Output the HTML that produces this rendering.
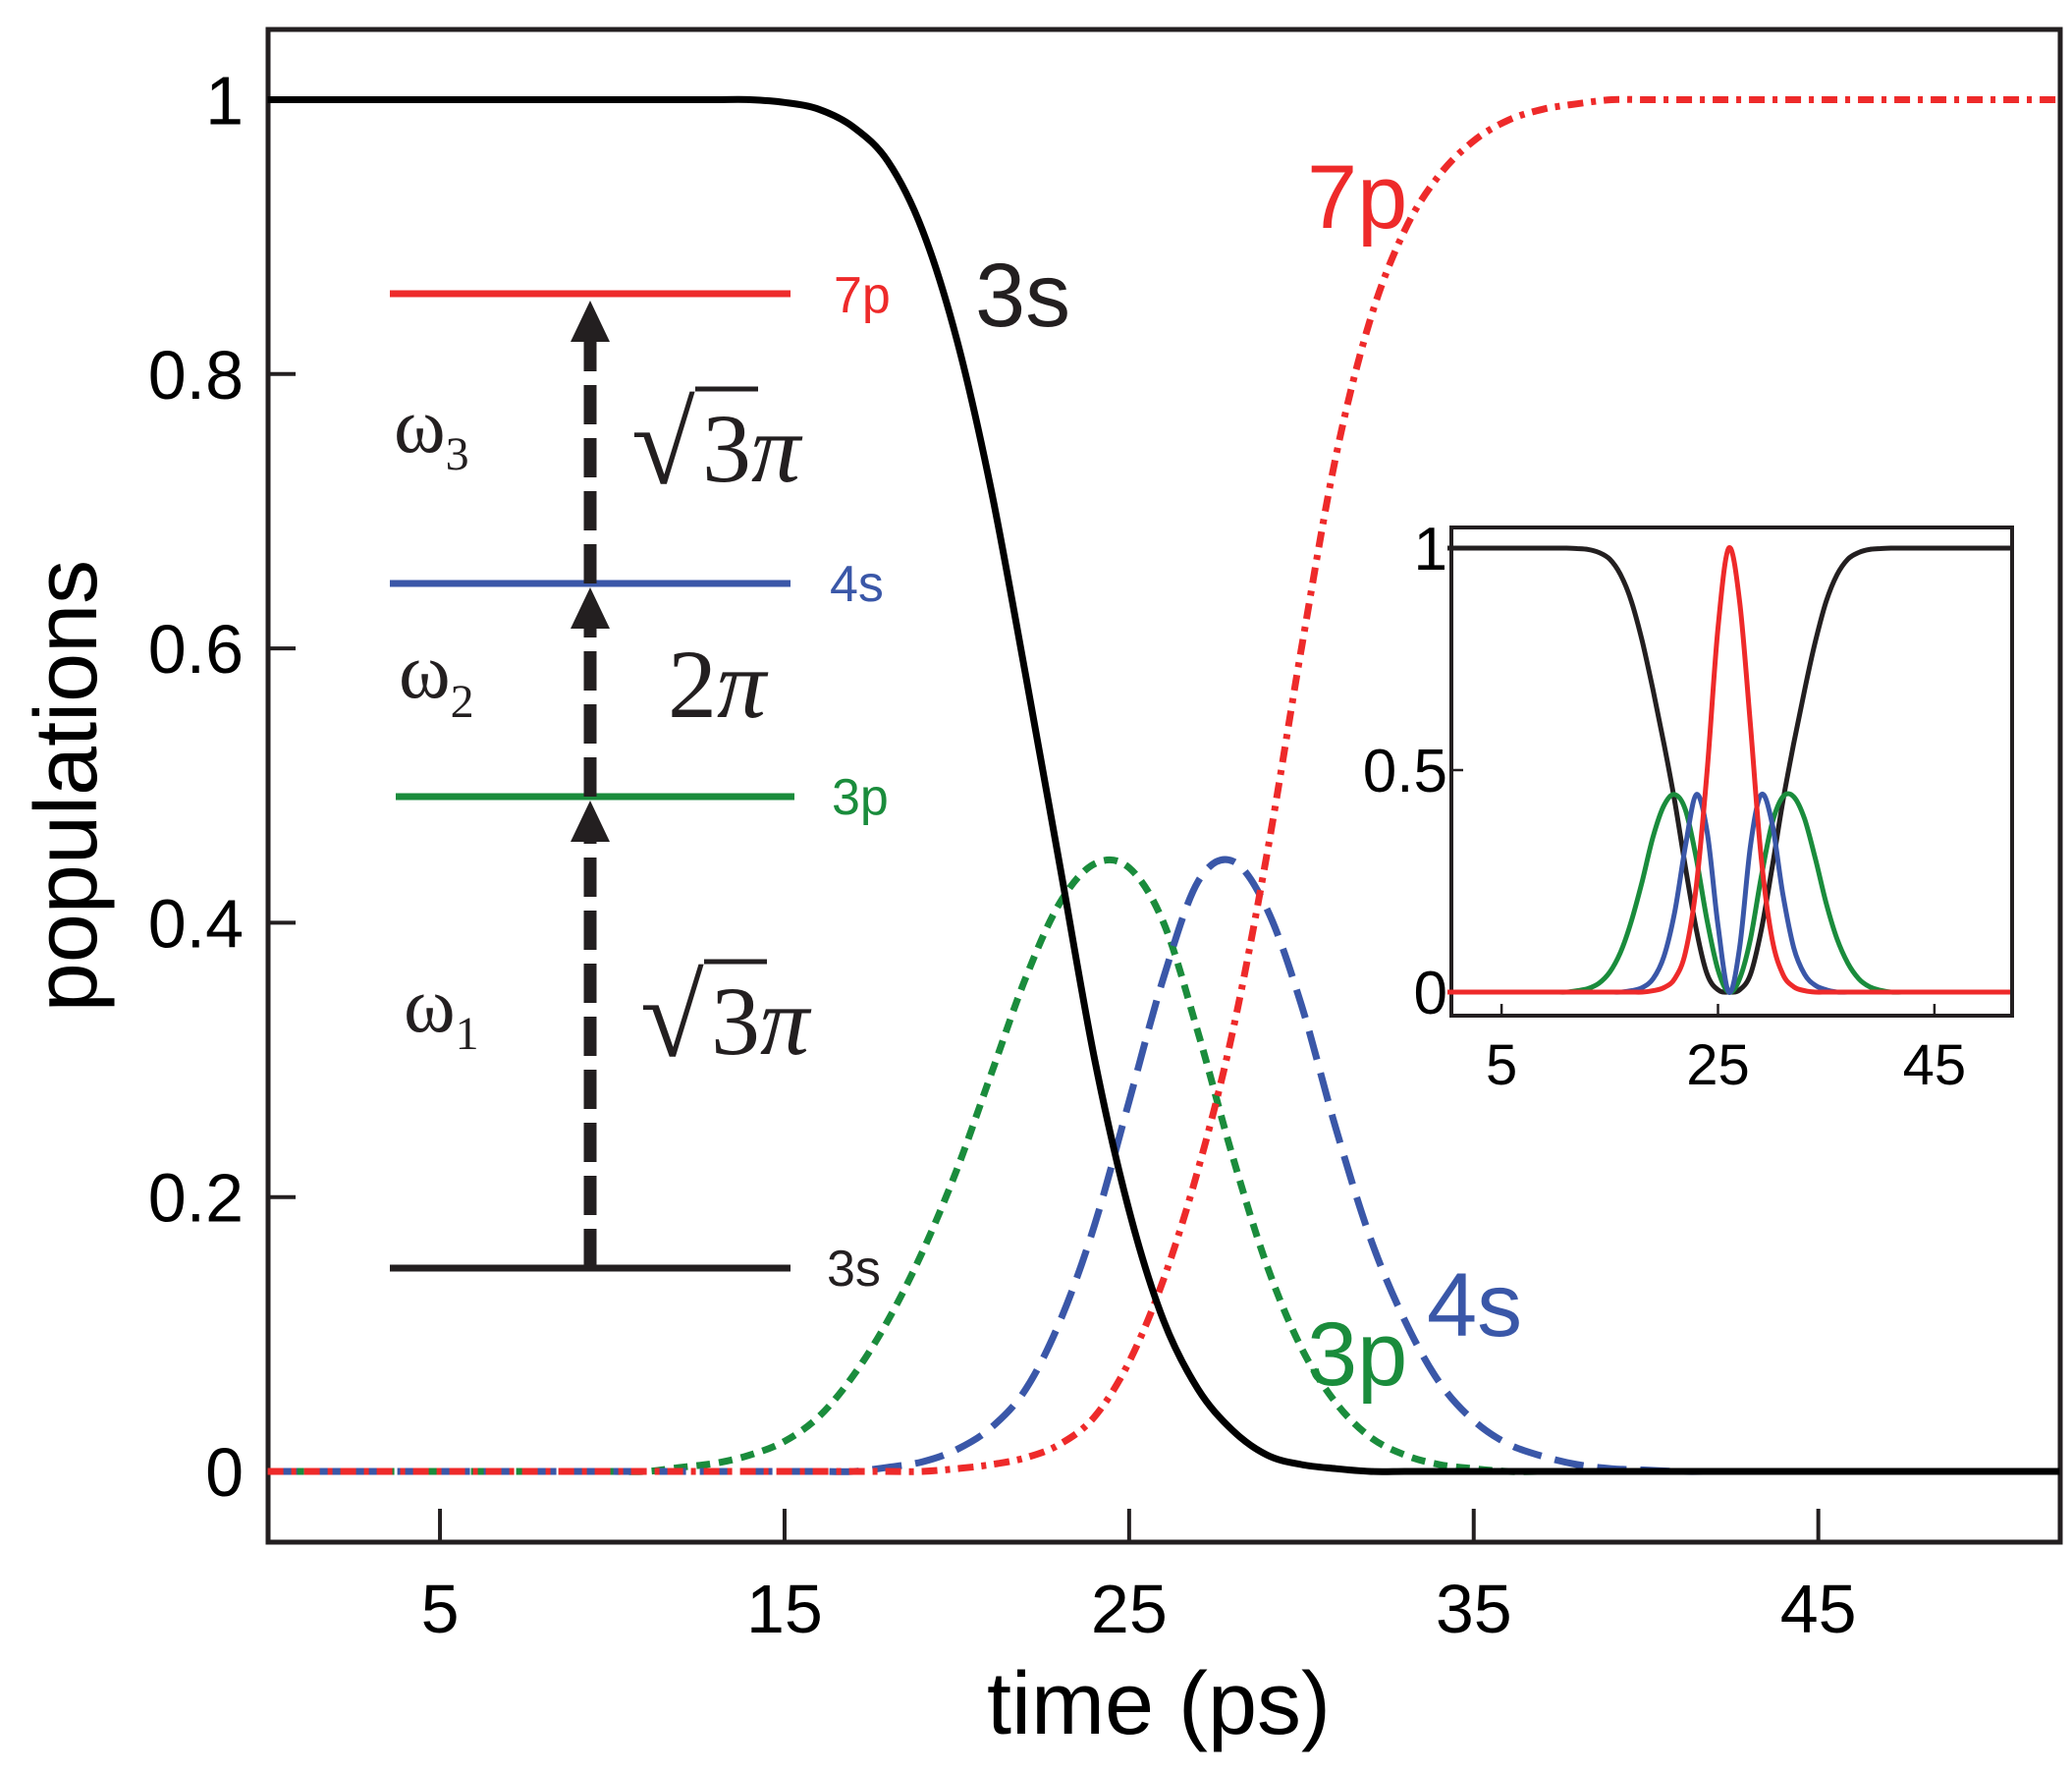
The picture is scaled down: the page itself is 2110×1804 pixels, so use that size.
<!DOCTYPE html>
<html><head><meta charset="utf-8"><style>
html,body{margin:0;padding:0;background:#fff;}
svg{display:block;font-family:"Liberation Sans",sans-serif;}
</style></head><body>
<svg id="chart" width="2110" height="1804" viewBox="0 0 2110 1804" xmlns="http://www.w3.org/2000/svg">
<g id="main"></g>
<g id="diagram">
  <line x1="397" y1="299" x2="805" y2="299" stroke="#ee2a2a" stroke-width="7"/>
  <line x1="397" y1="594" x2="805" y2="594" stroke="#3a57a8" stroke-width="7"/>
  <line x1="403" y1="811" x2="809" y2="811" stroke="#1a8c3c" stroke-width="7"/>
  <line x1="397" y1="1291" x2="805" y2="1291" stroke="#231f20" stroke-width="7"/>
  <text x="849" y="318" font-size="52" fill="#ee2a2a">7p</text>
  <text x="845" y="612" font-size="52" fill="#3a57a8">4s</text>
  <text x="847" y="829" font-size="52" fill="#1a8c3c">3p</text>
  <text x="842" y="1309" font-size="52" fill="#231f20">3s</text>
  <g stroke="#231f20" stroke-width="13" fill="#231f20">
    <line x1="601" y1="1291" x2="601" y2="852" stroke-dasharray="40,14"/>
    <polygon points="601,815 581,857 621,857" stroke="none"/>
    <line x1="601" y1="811" x2="601" y2="636" stroke-dasharray="40,14"/>
    <polygon points="601,598 581,640 621,640" stroke="none"/>
    <line x1="601" y1="594" x2="601" y2="348" stroke-dasharray="40,14"/>
    <polygon points="601,306 581,348 621,348" stroke="none"/>
  </g>
  <g font-family="Liberation Serif, serif" fill="#231f20">
    <text x="401" y="460" font-size="80">ω<tspan font-size="48" dy="18">3</tspan></text>
    <text x="406" y="710" font-size="80">ω<tspan font-size="48" dy="20">2</tspan></text>
    <text x="411" y="1050" font-size="80">ω<tspan font-size="48" dy="18">1</tspan></text>
    <g>
      <text x="643" y="492" font-size="118">√</text>
      <line x1="708" y1="396" x2="772" y2="396" stroke="#231f20" stroke-width="5"/>
      <text x="715" y="490" font-size="100">3<tspan font-style="italic">π</tspan></text>
    </g>
    <text x="680" y="730" font-size="100">2<tspan font-style="italic">π</tspan></text>
    <g>
      <text x="652" y="1075" font-size="118">√</text>
      <line x1="717" y1="979" x2="781" y2="979" stroke="#231f20" stroke-width="5"/>
      <text x="724" y="1073" font-size="100">3<tspan font-style="italic">π</tspan></text>
    </g>
  </g>
</g>
<g id="inset"></g>
</svg>
<script>
// main chart data (time in ps, populations)
const times = [0,1,2,3,4,5,6,7,8,9,10,11,12,13,14,15,16,17,18,19,20,21,22,23,24,25,26,27,28,29,30,31,32,33,34,35,36,37,38,39,40,41,42,43,44,45,46,47,48,49,50,51,52];
const pop3s = [1,1,1,1,1,1,1,1,1,1,1,1,1,1,1,0.998,0.993,0.98,0.955,0.905,0.825,0.715,0.58,0.44,0.3,0.19,0.11,0.06,0.03,0.012,0.005,0.002,0,0,0,0,0,0,0,0,0,0,0,0,0,0,0,0,0,0,0,0,0];
const pop3p = [0,0,0,0,0,0,0,0,0,0,0,0,0.003,0.006,0.012,0.022,0.04,0.07,0.11,0.16,0.22,0.29,0.36,0.415,0.443,0.44,0.4,0.32,0.23,0.15,0.09,0.05,0.025,0.012,0.005,0.002,0,0,0,0,0,0,0,0,0,0,0,0,0,0,0,0,0];
const pop4s = [0,0,0,0,0,0,0,0,0,0,0,0,0,0,0,0,0,0,0.003,0.007,0.016,0.032,0.06,0.11,0.18,0.27,0.36,0.43,0.445,0.41,0.34,0.25,0.17,0.11,0.065,0.037,0.02,0.011,0.005,0.002,0.001,0,0,0,0,0,0,0,0,0,0,0,0];
const pop7p = [0,0,0,0,0,0,0,0,0,0,0,0,0,0,0,0,0,0,0,0,0.002,0.005,0.01,0.02,0.04,0.08,0.14,0.22,0.32,0.45,0.6,0.74,0.84,0.905,0.945,0.97,0.985,0.993,0.997,1,1,1,1,1,1,1,1,1,1,1,1,1,1];
const xTicks = [5,15,25,35,45];
const yTicks = [0,0.2,0.4,0.6,0.8,1];
const yTickLabels = ["0","0.2","0.4","0.6","0.8","1"];
// inset data
const insetTimes = [0,1,2,3,4,5,6,7,8,9,10,11,12,13,14,15,16,17,18,19,20,21,22,23,24,25,26,27,28,29,30,31,32,33,34,35,36,37,38,39,40,41,42,43,44,45,46,47,48,49,50,51,52];
const in3s = [1,1,1,1,1,1,1,1,1,1,1,1,0.999,0.997,0.99,0.975,0.94,0.88,0.79,0.68,0.56,0.43,0.28,0.14,0.04,0.005,0,0.005,0.04,0.14,0.28,0.43,0.56,0.68,0.79,0.88,0.94,0.975,0.99,0.997,0.999,1,1,1,1,1,1,1,1,1,1,1,1];
const in3p = [0,0,0,0,0,0,0,0,0,0,0,0,0.003,0.008,0.02,0.045,0.09,0.16,0.25,0.35,0.42,0.445,0.41,0.3,0.16,0.05,0,0.03,0.12,0.26,0.38,0.44,0.44,0.39,0.3,0.2,0.12,0.065,0.03,0.012,0.004,0,0,0,0,0,0,0,0,0,0,0,0];
const in4s = [0,0,0,0,0,0,0,0,0,0,0,0,0,0,0,0,0,0.003,0.01,0.03,0.08,0.18,0.33,0.445,0.36,0.15,0,0.1,0.33,0.445,0.38,0.22,0.1,0.04,0.015,0.005,0,0,0,0,0,0,0,0,0,0,0,0,0,0,0,0,0];
const in7p = [0,0,0,0,0,0,0,0,0,0,0,0,0,0,0,0,0,0,0,0.003,0.01,0.03,0.09,0.24,0.5,0.82,1,0.88,0.6,0.3,0.12,0.04,0.012,0.003,0,0,0,0,0,0,0,0,0,0,0,0,0,0,0,0,0,0,0];
const inXTicks = [5,25,45];
const inYTicks = [0,0.5,1];
const inYTickLabels = ["0","0.5","1"];

const NS = "http://www.w3.org/2000/svg";
function mk(parent, tag, attrs){const e=document.createElementNS(NS,tag);for(const k in attrs)e.setAttribute(k,attrs[k]);parent.appendChild(e);return e;}
function smooth(xs, ys){
  let d="M"+xs[0].toFixed(1)+","+ys[0].toFixed(1);
  for(let i=0;i<xs.length-1;i++){
    const x0=xs[Math.max(0,i-1)],y0=ys[Math.max(0,i-1)],x1=xs[i],y1=ys[i],x2=xs[i+1],y2=ys[i+1],x3=xs[Math.min(xs.length-1,i+2)],y3=ys[Math.min(xs.length-1,i+2)];
    const c1x=x1+(x2-x0)/6,c1y=y1+(y2-y0)/6,c2x=x2-(x3-x1)/6,c2y=y2-(y3-y1)/6;
    d+=" C"+c1x.toFixed(1)+","+c1y.toFixed(1)+" "+c2x.toFixed(1)+","+c2y.toFixed(1)+" "+x2.toFixed(1)+","+y2.toFixed(1);
  }
  return d;
}
// main axes
const mx = t => 272.6 + t*35.09;
const my = v => 1498 - v*1396.5;
const gm = document.getElementById('main');
const frame = mk(gm,'rect',{x:273,y:30,width:1825,height:1540,fill:'none',stroke:'#231f20','stroke-width':5});


xTicks.forEach(t=>{
  const l=mk(gm,'line',{x1:mx(t),y1:1570,x2:mx(t),y2:1536,stroke:'#231f20','stroke-width':4});
  
  
  const tx=mk(gm,'text',{x:mx(t),y:1662,'font-size':70,'text-anchor':'middle',fill:'#000'});
  tx.textContent=String(t);
  
  
});
yTicks.forEach((v,i)=>{
  const l=mk(gm,'line',{x1:273,y1:my(v),x2:301,y2:my(v),stroke:'#231f20','stroke-width':4});
  
  
  const tx=mk(gm,'text',{x:248,y:my(v)+25,'font-size':70,'text-anchor':'end',fill:'#000'});
  tx.textContent=yTickLabels[i];
  
  
});
const xt=mk(gm,'text',{x:1180,y:1765,'font-size':90,'text-anchor':'middle',fill:'#000'});
xt.textContent='time (ps)';


const yt=mk(gm,'text',{x:0,y:0,'font-size':90,'text-anchor':'middle',fill:'#000',transform:'translate(98,800) rotate(-90)'});
yt.textContent='populations';


const mainSeries=[
  {v:pop3p,c:'#1a8c3c',d:'14,9',n:'line-3p'},
  {v:pop4s,c:'#3a57a8',d:'30,14',n:'line-4s'},
  {v:pop7p,c:'#ee2a2a',d:'16,8,5,8',n:'line-7p'},
  {v:pop3s,c:'#000',d:'none',n:'line-3s'}
];
mainSeries.forEach(s=>{
  const p=mk(gm,'path',{d:smooth(times.map(mx),s.v.map(my)),fill:'none',stroke:s.c,'stroke-width':7,'stroke-dasharray':s.d});
  
  
});
const labs=[['3s',993,332,'#231f20','label-3s'],['7p',1331,232,'#ee2a2a','label-7p'],['3p',1331,1410,'#1a8c3c','label-3p'],['4s',1453,1360,'#3a57a8','label-4s']];
labs.forEach(a=>{
  const tx=mk(gm,'text',{x:a[1],y:a[2],'font-size':92,fill:a[3]});
  tx.textContent=a[0];
  
  
});
// inset
const ix = t => 1474 + t*11.02;
const iy = v => 1010 - v*452;
const gi = document.getElementById('inset');


const ibg=mk(gi,'rect',{x:1478,y:537,width:571,height:497,fill:'#fff',stroke:'#231f20','stroke-width':4});


inXTicks.forEach(t=>{
  const l=mk(gi,'line',{x1:ix(t),y1:1034,x2:ix(t),y2:1022,stroke:'#231f20','stroke-width':2.5});
  
  
  const tx=mk(gi,'text',{x:ix(t),y:1104,'font-size':58,'text-anchor':'middle',fill:'#000'});
  tx.textContent=String(t);
  
  
});
inYTicks.forEach((v,i)=>{
  const l=mk(gi,'line',{x1:1478,y1:iy(v),x2:1490,y2:iy(v),stroke:'#231f20','stroke-width':2.5});
  
  
  const tx=mk(gi,'text',{x:1474,y:iy(v)+22,'font-size':62,'text-anchor':'end',fill:'#000'});
  tx.textContent=inYTickLabels[i];
  
  
});
const inSeries=[
  {v:in3s,c:'#231f20',n:'inset-line-3s'},
  {v:in3p,c:'#1a8c3c',n:'inset-line-3p'},
  {v:in4s,c:'#3a57a8',n:'inset-line-4s'},
  {v:in7p,c:'#ee2a2a',n:'inset-line-7p'}
];
inSeries.forEach(s=>{
  const p=mk(gi,'path',{d:smooth(insetTimes.map(ix),s.v.map(iy)),fill:'none',stroke:s.c,'stroke-width':5});
  
  
});
</script>
</body></html>
